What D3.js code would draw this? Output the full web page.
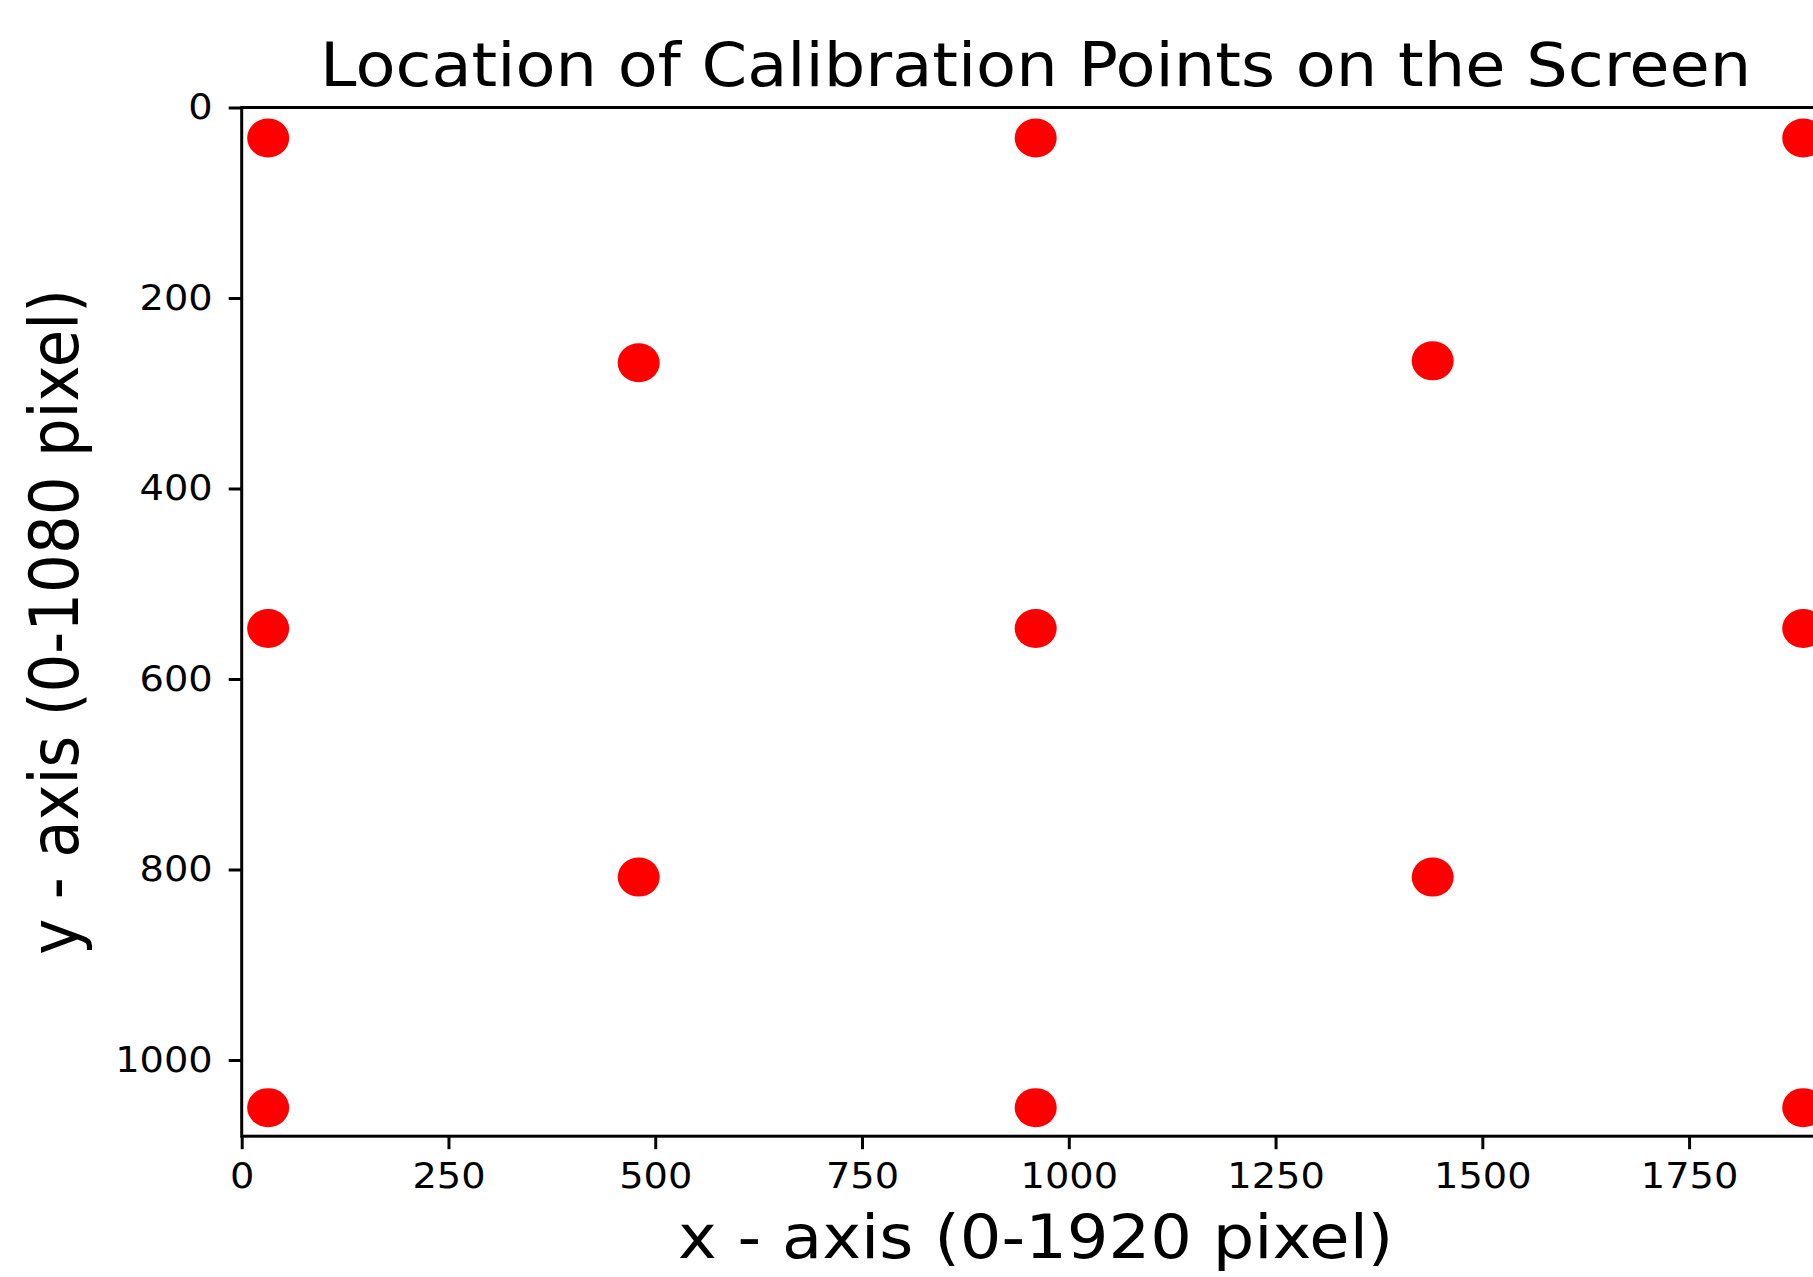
<!DOCTYPE html>
<html>
<head>
<meta charset="utf-8">
<script src="https://cdn.jsdelivr.net/npm/d3@7"></script>
<style>
  body { margin: 0; background: #fff; }
  text { font-family: "DejaVu Sans", sans-serif; fill: #000; }
  .axis path, .axis line { stroke: #000; stroke-width: 3; }
</style>
</head>
<body>
<div id="canvas"></div>
<script>
// calibration points (screen pixels)
var xVals = [32, 960, 1888, 480, 1440, 32, 960, 1888, 480, 1440, 32, 960, 1888];
var yVals = [32, 32, 32, 268, 266, 547, 547, 547, 808, 808, 1050, 1050, 1050];
var xTicks = [0, 250, 500, 750, 1000, 1250, 1500, 1750];
var yTicks = [0, 200, 400, 600, 800, 1000];

var W = 1813, H = 1277;
var m = {t: 107.5, l: 241.7},
    w = 1588, // plot runs past the right edge of the picture
    h = 1028.7;
var sx = 1.08; // horizontal stretch of the source picture

var svg = d3.select('#canvas')
    .append('svg')
    .attr('width', W)
    .attr('height', H);

var plot = svg.append('g')
    .attr('transform', 'translate(' + m.l + ',' + m.t + ')');

var x = d3.scaleLinear().domain([0, 1920]).range([0, w]);
var y = d3.scaleLinear().domain([0, 1080]).range([0, h]);

// frame
plot.append('rect')
    .attr('width', w).attr('height', h)
    .style('fill', 'none').style('stroke', '#000').style('stroke-width', 3);

var fmt = d3.format('d');
var xAxis = plot.append('g').attr('class', 'axis')
    .attr('transform', 'translate(0,' + h + ')')
    .call(d3.axisBottom(x).tickValues(xTicks).tickFormat(fmt).tickSize(13).tickPadding(14).tickSizeOuter(0));
var yAxis = plot.append('g').attr('class', 'axis')
    .call(d3.axisLeft(y).tickValues(yTicks).tickFormat(fmt).tickSize(13).tickPadding(16).tickSizeOuter(0));

plot.selectAll('.axis .domain').remove();
plot.selectAll('.axis text')
    .attr('font-size', 35.5)
    .style('font-family', '"DejaVu Sans", sans-serif');

// stretch tick labels horizontally
xAxis.selectAll('.tick text')
    .attr('transform', 'scale(' + sx + ',1)')
    .attr('dy', '0.71em')
    .attr('y', 27);
yAxis.selectAll('.tick text')
    .attr('x', -29 / sx)
    .attr('transform', 'scale(' + sx + ',1)');

// points
plot.selectAll('.pt')
    .data(xVals.map(function(d, i){ return {x: d, y: yVals[i]}; }))
    .enter()
    .append('ellipse').attr('class', 'pt')
    .attr('cx', function(d){ return x(d.x); })
    .attr('cy', function(d){ return y(d.y); })
    .attr('rx', 21)
    .attr('ry', 19.5)
    .style('fill', '#ff0000');

// title and axis labels
var cx = m.l + w / 2;
svg.append('text')
    .attr('transform', 'translate(' + cx + ',86) scale(' + sx + ',1)')
    .attr('text-anchor', 'middle')
    .attr('font-size', 60.6)
    .text('Location of Calibration Points on the Screen');

svg.append('text')
    .attr('transform', 'translate(' + cx + ',1258) scale(' + sx + ',1)')
    .attr('text-anchor', 'middle')
    .attr('font-size', 60.7)
    .text('x - axis (0-1920 pixel)');

svg.append('text')
    .attr('transform', 'translate(78,' + (m.t + h / 2) + ') scale(1.12,1) rotate(-90)')
    .attr('text-anchor', 'middle')
    .attr('font-size', 61)
    .text('y - axis (0-1080 pixel)');
</script>
</body>
</html>
